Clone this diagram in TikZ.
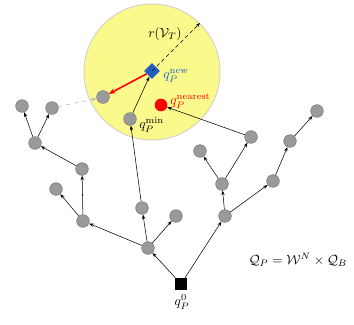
\documentclass[tikz,border=0pt]{standalone}
\usetikzlibrary{arrows.meta,shapes.geometric}
\definecolor{circfill}{HTML}{FAFA8C}
\definecolor{nodegray}{HTML}{9A9A9A}
\definecolor{nodeedge}{HTML}{7A7A7A}
\definecolor{newblue}{HTML}{1F5FBF}
\begin{document}
\begin{tikzpicture}[x=0.75pt,y=-0.75pt,
  tn/.style={circle,fill=nodegray,draw=nodeedge,line width=0.4pt,minimum size=9.5pt,inner sep=0pt},
  edge/.style={-{Stealth[length=3.5pt,width=2.5pt]},line width=0.4pt,black},
  lbl/.style={inner sep=0pt}]
\useasboundingbox (0,0) rectangle (354,325);
% sampling region
\node[circle,fill=circfill,draw=black!20,line width=0.6pt,minimum size=102pt,inner sep=0pt] (reg) at (152,72) {};
% nodes
\node[fill=black,minimum size=9pt,inner sep=0pt] (root) at (181,284) {};
\node[tn] (a) at (148,248) {};
\node[tn] (b) at (142,208) {};
\node[tn] (c) at (176,216) {};
\node[tn] (l) at (83,221) {};
\node[tn] (l1) at (56,189) {};
\node[tn] (l2) at (82,169) {};
\node[tn] (l3) at (35,143) {};
\node[tn] (l4) at (22,106) {};
\node[tn] (l5) at (52,108) {};
\node[tn] (min) at (130,119) {};
\node[tn] (d) at (225,216) {};
\node[tn] (e) at (222,184) {};
\node[tn] (f) at (200,151) {};
\node[tn] (g) at (251,137) {};
\node[tn] (h) at (273,181) {};
\node[tn] (i) at (290,141) {};
\node[tn] (j) at (317,111) {};
\node[tn] (rew) at (103,97) {};
\node[circle,fill=red,minimum size=9.5pt,inner sep=0pt] (near) at (161,105) {};
\node[diamond,fill=newblue,minimum size=12pt,inner sep=0pt] (new) at (152,71) {};
\coordinate (redge) at (200,23);
% edges
\draw[edge] (root) -- (a);
\draw[edge] (root) -- (d);
\draw[edge] (a) -- (b);
\draw[edge] (a) -- (c);
\draw[edge] (a) -- (l);
\draw[edge] (b) -- (min);
\draw[edge] (l) -- (l1);
\draw[edge] (l) -- (l2);
\draw[edge] (l2) -- (l3);
\draw[edge] (l3) -- (l4);
\draw[edge] (l3) -- (l5);
\draw[edge] (d) -- (e);
\draw[edge] (d) -- (h);
\draw[edge] (e) -- (f);
\draw[edge] (e) -- (g);
\draw[edge] (g) -- (near);
\draw[edge] (h) -- (i);
\draw[edge] (i) -- (j);
\draw[edge] (min) -- (new);
\draw[-{Stealth[length=3.5pt,width=2.5pt]},black!30,dashed,line width=0.4pt] (l5) -- (rew);
\draw[-{Stealth[length=5pt,width=4pt]},red,line width=1.2pt] (new) -- (rew);
\draw[-{Stealth[length=3.5pt,width=2.5pt]},densely dashed,line width=0.4pt] (new.center) -- (redge);
% labels
\node[lbl] (rlab) at (165,34) {$r(\mathcal{V}_T)$};
\node[lbl,text=newblue,anchor=west] (newlab) at (163,76) {$q_P^{\mathrm{new}}$};
\node[lbl,text=red,anchor=west] (nearlab) at (170,101) {$q_P^{\mathrm{nearest}}$};
\node[lbl,anchor=west] (minlab) at (139,125) {$q_P^{\mathrm{min}}$};
\node[lbl] (rootlab) at (182,302) {$q_P^0$};
\node[lbl] (eq) at (298,260) {$\mathcal{Q}_P=\mathcal{W}^N\times\mathcal{Q}_B$};
\end{tikzpicture}
\end{document}
